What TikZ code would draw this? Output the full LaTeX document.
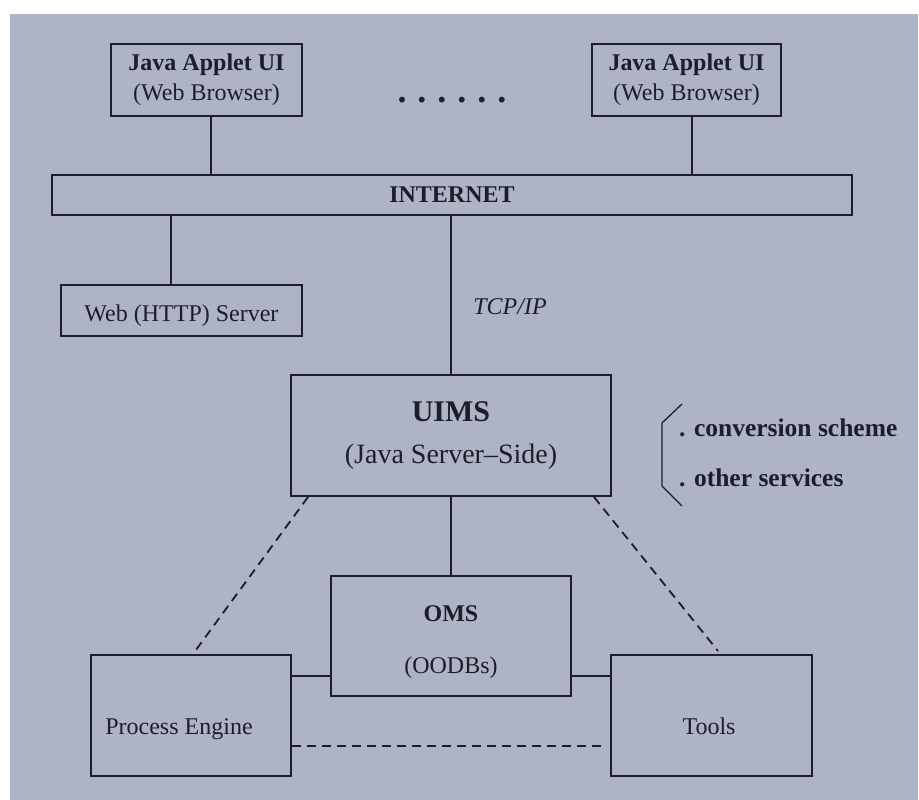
\documentclass[tikz,border=0pt]{standalone}
\usepackage{fontspec}
\setmainfont{Liberation Serif}
\definecolor{bg}{RGB}{174,180,197}
\definecolor{ink}{RGB}{28,30,42}
\begin{document}
\begin{tikzpicture}[x=1pt,y=-1pt,
  box/.style={draw=ink,line width=2pt,rectangle,inner sep=0pt,align=center,text=ink,font=\fontsize{24}{30}\selectfont},
  conn/.style={draw=ink,line width=1.6pt},
  dashconn/.style={draw=ink,line width=1.8pt,dash pattern=on 9pt off 6pt},
  txt/.style={text=ink,inner sep=0pt,align=center,font=\fontsize{24}{30}\selectfont}
]
\useasboundingbox[fill=white] (0,0) rectangle (919,800);
\fill[bg] (10,14) rectangle (918,800);

% top clients
\node[box,minimum width=191pt,minimum height=72pt] (ja1) at (206.5,80) {\textbf{Java Applet UI}\\(Web Browser)};
\node[box,minimum width=189pt,minimum height=72pt] (ja2) at (686.5,80) {\textbf{Java Applet UI}\\(Web Browser)};
\node[txt,font=\bfseries\fontsize{36}{40}\selectfont] (dots) at (452,100) {.\hspace{11pt}.\hspace{11pt}.\hspace{11pt}.\hspace{11pt}.\hspace{11pt}.};

% internet bar
\node[box,minimum width=800pt,minimum height=40pt] (inet) at (452,195) {\textbf{INTERNET}};

% web server
\node[box,minimum width=241pt,minimum height=51pt,
  label={[txt,yshift=-5pt]center:Web (HTTP) Server}] (web) at (181.5,310.5) {};

% TCP/IP label
\node[txt,font=\itshape\fontsize{24}{30}\selectfont] (tcp) at (510,307) {TCP/IP};

% UIMS
\node[box,minimum width=320pt,minimum height=121pt,font=\fontsize{28}{42}\selectfont] (uims) at (451,435.5)
  {{\fontsize{30}{42}\selectfont\bfseries UIMS}\\(Java Server--Side)};

% bracket and services
\draw[draw=ink,line width=1.3pt] (682,404) -- (662,423) -- (662,486) -- (682,506);
\node[txt,anchor=west,font=\bfseries\fontsize{25.5}{30}\selectfont] (cs) at (679,428) {. conversion scheme};
\node[txt,anchor=west,font=\bfseries\fontsize{25.5}{30}\selectfont] (os) at (679,478) {. other services};

% OMS
\node[box,minimum width=240pt,minimum height=120pt,
  label={[txt,yshift=-6pt,font=\fontsize{24}{52}\selectfont]center:{\textbf{OMS}\\(OODBs)}}] (oms) at (451,636) {};

% Process Engine and Tools
\node[box,minimum width=200pt,minimum height=121pt,
  label={[txt,xshift=-12pt,yshift=-13.5pt]center:Process Engine}] (pe) at (191,715.5) {};
\node[box,minimum width=201pt,minimum height=121pt,
  label={[txt,xshift=-2.5pt,yshift=-11pt]center:Tools}] (tools) at (711.5,715.5) {};

% connectors
\draw[conn] ([xshift=4.5pt]ja1.south) -- ([xshift=4.5pt]ja1.south |- inet.north);
\draw[conn] ([xshift=5.5pt]ja2.south) -- ([xshift=5.5pt]ja2.south |- inet.north);
\draw[conn] ([xshift=-10.5pt]web.north) -- ([xshift=-10.5pt]web.north |- inet.south);
\draw[conn] (uims.north) -- (uims.north |- inet.south);
\draw[conn] (uims.south) -- (oms.north);
\draw[conn] ([yshift=-40pt]oms.west) -- ([yshift=-40pt]oms.west -| pe.east);
\draw[conn] ([yshift=-40pt]oms.east) -- ([yshift=-40pt]oms.east -| tools.west);

\draw[dashconn] ([xshift=18pt]uims.south west) -- ([xshift=2pt]pe.north);
\draw[dashconn] ([xshift=-18pt]uims.south east) -- ([xshift=6.5pt,yshift=3pt]tools.north);
\draw[dashconn] ([yshift=-30.5pt]pe.east) -- ([yshift=-30.5pt,xshift=-7pt]tools.west);
\end{tikzpicture}
\end{document}
